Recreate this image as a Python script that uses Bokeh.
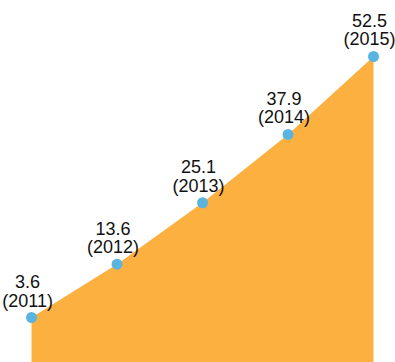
from bokeh.plotting import figure
from bokeh.models import ColumnDataSource, Range1d
from bokeh.core.properties import value
from bokeh.embed import file_html
from bokeh.resources import INLINE

years = [2011, 2012, 2013, 2014, 2015]
values = [3.6, 13.6, 25.1, 37.9, 52.5]
value_labels = [f"{v}" for v in values]
year_labels = [f"({y})" for y in years]

src = ColumnDataSource(dict(x=years, y=values, vl=value_labels, yl=year_labels,
                            base=[-20] * len(years)))

p = figure(width=395, height=362, output_backend="svg", toolbar_location=None,
           x_range=Range1d(2010.637, 2015.257), y_range=Range1d(-4.83, 62.99),
           min_border=0, outline_line_color=None)
p.xaxis.visible = False
p.yaxis.visible = False
p.xgrid.visible = False
p.ygrid.visible = False
p.background_fill_color = "white"
p.border_fill_color = "white"

p.varea(x="x", y1="base", y2="y", source=src, fill_color="#FBB040")
p.scatter(x="x", y="y", source=src, size=11, fill_color="#5AB4E0", line_color=None)

font = value("Liberation Sans")
p.text(x="x", y="y", text="yl", source=src, text_font=font, text_font_size="18px",
       text_align="center", text_baseline="alphabetic", x_offset=-4, y_offset=-17,
       text_color="#111111")
p.text(x="x", y="y", text="vl", source=src, text_font=font, text_font_size="18px",
       text_align="center", text_baseline="alphabetic", x_offset=-4, y_offset=-36,
       text_color="#111111")

open("out.html", "w").write(file_html(p, INLINE))
